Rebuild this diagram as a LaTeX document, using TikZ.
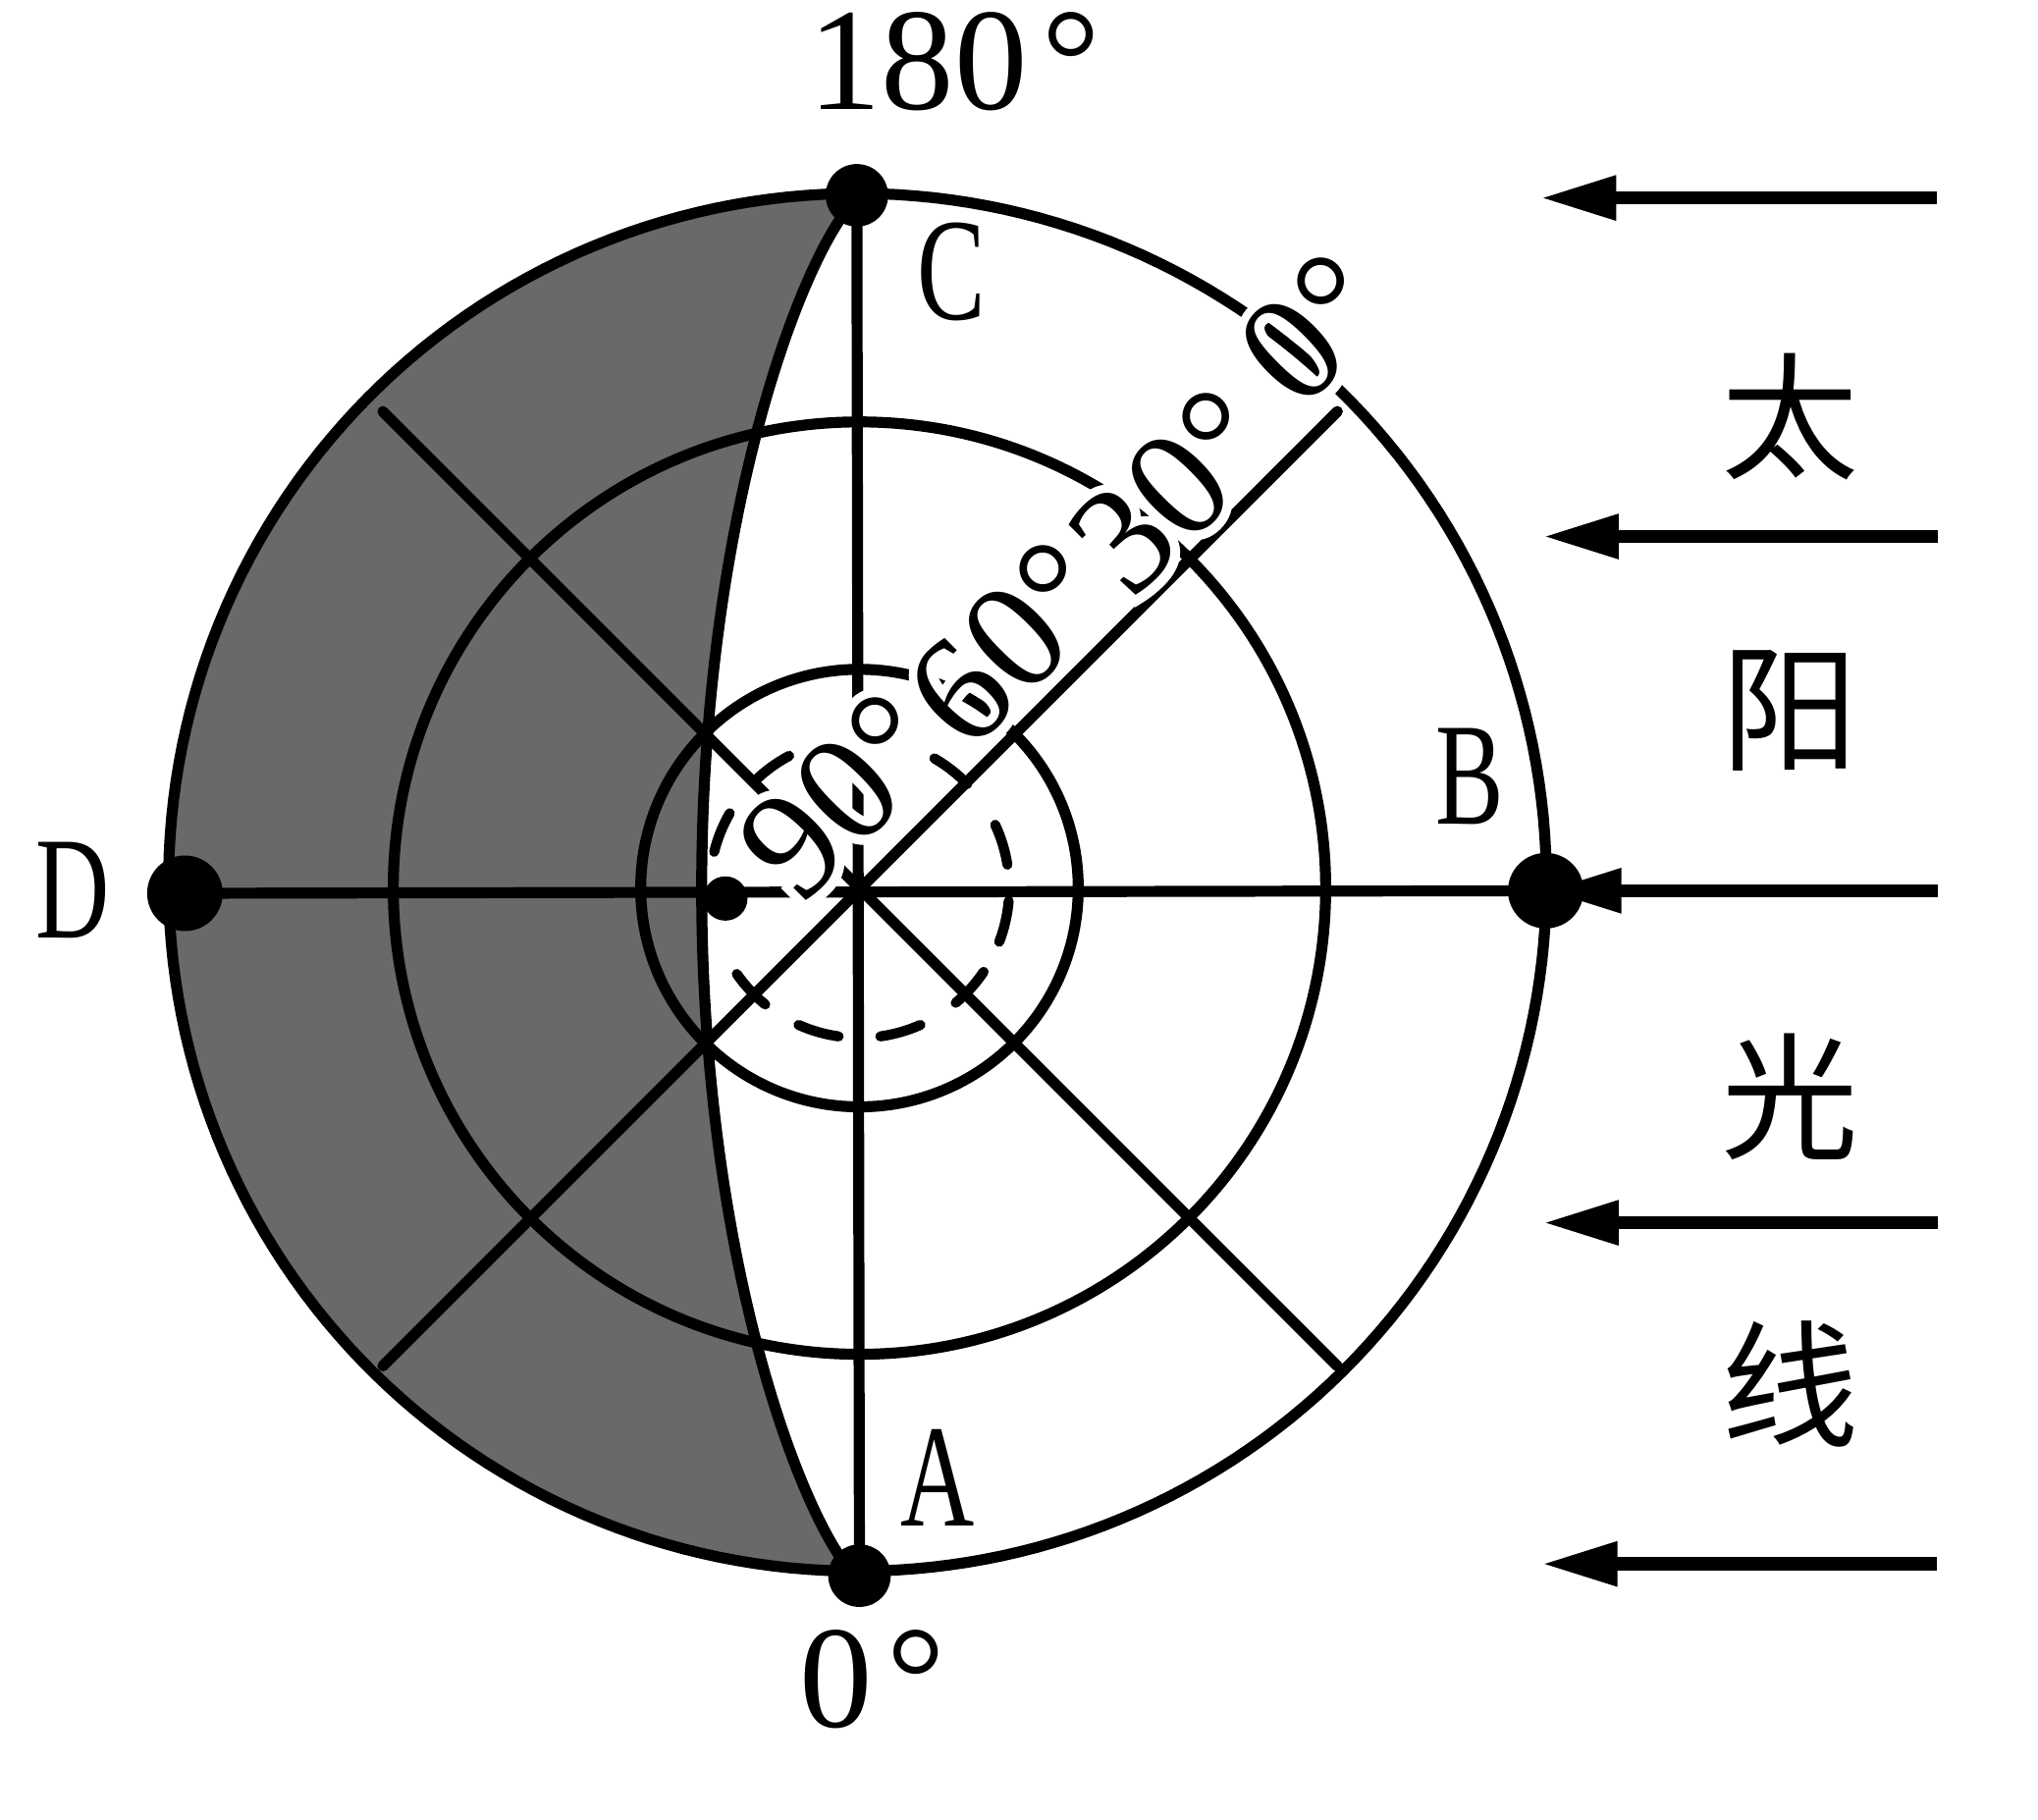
\documentclass[tikz,border=0pt]{standalone}
\usepackage{fontspec}
\setmainfont{Liberation Serif}
\newfontfamily\halofont[FakeBold=12]{Liberation Serif}
\newfontfamily\cjk{Noto Sans CJK SC}
\usepackage{graphicx}
\usetikzlibrary{calc,arrows.meta}
\definecolor{nightgray}{RGB}{105,105,105}
\begin{document}
\begin{tikzpicture}[x=0.01cm,y=-0.01cm,
  declare function={outerR(\t)=529+6*cos(\t-115);},
  grid/.style={line width=2.4pt, line cap=round, line join=round},
  dot/.style={circle, fill=black, inner sep=0pt},
  lab/.style={inner sep=0pt, font=\fontsize{31.9}{36}\selectfont},
  diag/.style={inner sep=0pt, rotate=45, font=\fontsize{33.6}{40}\selectfont},
  halo/.style={inner sep=0pt, rotate=45, text=white, font=\halofont\fontsize{33.6}{40}\selectfont},
  cjkl/.style={inner sep=0pt, font=\cjk\fontsize{30}{36}\selectfont},
  ray/.style={line width=2.85pt, -{Triangle[length=0.58cm,width=0.32cm]}},
  tick/.style={line width=2.2pt, line cap=round},
]
\useasboundingbox (0,0) rectangle (1565,1397);
\coordinate (O) at (660,682);
% shaded night side
\begin{scope}
\clip plot[domain=0:360, samples=241] ({661+outerR(\x)*cos(\x)}, {683-outerR(\x)*sin(\x)});
\fill[nightgray] (650,0) -- plot[domain=90:-90, samples=121] ({660-121*pow(abs(cos(\x))+0.001,1.5)}, {682-530*sin(\x)}) -- (660,1397) -- (0,1397) -- (0,0) -- cycle;
\end{scope}
% terminator
\draw[grid] plot[domain=90:-90, samples=121] ({660-121*pow(abs(cos(\x))+0.001,1.5)}, {682-530*sin(\x)});
% circles
\draw[grid] plot[domain=0:360, samples=241] ({661+outerR(\x)*cos(\x)}, {683-outerR(\x)*sin(\x)}) -- cycle;
\draw[grid] (O) circle[radius=358];
\draw[grid] (O) circle[radius=168];
% dashed inner ring
\foreach \t in {-158,-126,-52,-17,13,42,74,106,137}
  \draw[tick] ($(O)+(\t-8:115)$) arc[start angle=\t-8, end angle=\t+8, radius=115];
% points
\node[dot, minimum size=0.48cm] (C) at (658,150) {};
\node[dot, minimum size=0.48cm] (A) at (660,1210) {};
\node[dot, minimum size=0.58cm] (D) at (142,686) {};
\node[dot, minimum size=0.58cm] (B) at (1187,684) {};
\node[dot, minimum size=0.34cm] (E) at (557,690) {};
% meridians
\coordinate (NW) at (294,316);
\coordinate (NE) at (1027,316);
\coordinate (SW) at (294,1049);
\coordinate (SE) at (1027,1049);
\draw[grid] (C.center) -- (A.center);
\draw[grid] (D.center) -- (B.center);
\draw[grid] (NW) -- (SE);
\draw[grid] (NE) -- (SW);
% latitude labels along the diagonal, with white halo
\node[halo] (h90) at (646,611) {90°};
\node[halo] (h60) at (775,494) {60°};
\node[halo] (h30) at (900,377) {30°};
\node[halo] (h0) at (1009,252) {0°};
\node[diag] (l90) at (646,611) {90°};
\node[diag] (l60) at (775,494) {60°};
\node[diag] (l30) at (900,377) {30°};
\node[diag] (l0) at (1009,252) {0°};
% labels
\node[lab] (t180) at (733,47) {180\kern0.1em°};
\node[lab] (t0) at (670,1290) {0\kern0.1em°};
\node[lab] (lC) at (731,209) {\scalebox{0.7}[1]{C}};
\node[lab] (lB) at (1129,596) {\scalebox{0.7}[1]{B}};
\node[lab] (lD) at (56,684) {\scalebox{0.7}[1]{D}};
\node[lab] (lA) at (720,1135) {\scalebox{0.7}[1]{A}};
% sunlight
\coordinate (r1s) at (1487,152); \coordinate (r1e) at (1183,152);
\coordinate (r2s) at (1488,412); \coordinate (r2e) at (1185,412);
\coordinate (r3s) at (1488,684);
\coordinate (r4s) at (1488,939); \coordinate (r4e) at (1185,939);
\coordinate (r5s) at (1487,1201); \coordinate (r5e) at (1184,1201);
\draw[ray] (r1s) -- (r1e);
\draw[ray] (r2s) -- (r2e);
\draw[ray] (r3s) -- (B.center);
\draw[ray] (r4s) -- (r4e);
\draw[ray] (r5s) -- (r5e);
\node[cjkl] (s1) at (1375,320) {太};
\node[cjkl] (s2) at (1375,546) {阳};
\node[cjkl] (s3) at (1375,842) {光};
\node[cjkl] (s4) at (1375,1063) {线};
\end{tikzpicture}
\end{document}
